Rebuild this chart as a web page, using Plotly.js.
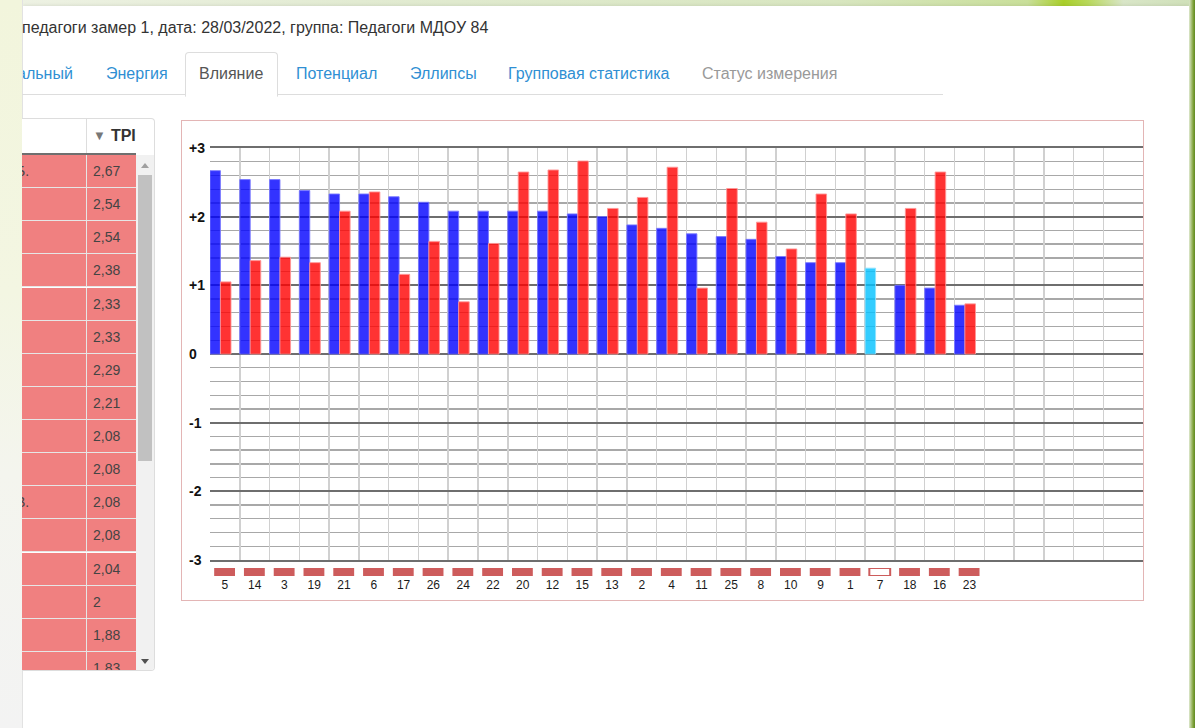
<!DOCTYPE html>
<html><head><meta charset="utf-8">
<script src="https://cdn.plot.ly/plotly-3.0.1.min.js"></script>
<style>
html,body{margin:0;padding:0;width:1195px;height:728px;overflow:hidden;font-family:"Liberation Sans",Arial,sans-serif;}
body{position:relative;background:#dfe8cf;}
#topbar{position:absolute;left:0;top:0;width:1195px;height:6px;background:linear-gradient(90deg,#eef2e4 0%,#e2ebd2 30%,#d8e6c0 70%,#c9df9a 86%,#a9cf2a 89%,#b8d85a 91%,#d9e6c8 94%,#cfe0b8 100%);}
#rightstrip{position:absolute;left:1189px;top:0;width:6px;height:728px;background:linear-gradient(90deg,#dfe9cf,#7fa13a 70%,#5f8a22);}
#leftstrip{position:absolute;left:0;top:0;width:22px;height:728px;background:linear-gradient(180deg,#f2f5dc 0%,#f3f6e2 40%,#f4f5ee 65%,#f3f3f3 100%);border-right:1px solid #e2e2e2;}
#panel{position:absolute;left:23px;top:6px;width:1166px;height:730px;background:#fff;box-shadow:0 -1px 3px rgba(0,0,0,0.08);}
.abs{position:absolute;white-space:nowrap;}
#hdr{left:22px;top:19px;font-size:16px;color:#333;line-height:18px;}
.tab{top:65px;font-size:16px;line-height:18px;color:#2f8fd3;}
#clip1{left:23px;top:60px;width:70px;height:30px;overflow:hidden;}
#clip1 .tab{top:5px;left:-6px;}
#tabline{left:22px;top:94px;width:921px;height:1px;background:#ddd;}
#activetab{left:185px;top:52px;width:91px;height:43px;border:1px solid #ddd;border-bottom:1px solid #fff;border-radius:4px 4px 0 0;background:#fff;}
#tbl{left:22px;top:118px;width:132px;height:551px;overflow:hidden;border:1px solid #ddd;border-left:none;border-radius:0 4px 4px 0;background:#fff;}
#thead{position:absolute;left:0;top:0;width:114px;height:34px;border-bottom:2px solid #6f6f6f;background:#fff;}
#thdiv{position:absolute;left:64px;top:0;width:1px;height:34px;background:#ddd;}
#thtext{position:absolute;left:71px;top:8px;font-size:16px;font-weight:bold;color:#333;}
#thtext span{color:#777;font-size:13px;margin-right:5px;position:relative;top:-1px;}
.row{position:absolute;left:0;width:114px;height:32px;background:#f08080;border-bottom:1px solid #e6e6e6;}
.c1{position:absolute;left:0;top:0;width:64px;height:32px;border-right:1px solid #e6e6e6;overflow:hidden;}
.c1 span{position:absolute;left:-6px;top:8px;font-size:14px;color:#444;}
.c2{position:absolute;left:71px;top:8px;font-size:14px;color:#444;}
#sb{position:absolute;left:114px;top:36px;width:18px;height:515px;background:#f1f1f1;}
#thumb{position:absolute;left:2px;top:20px;width:14px;height:286px;background:#c1c1c1;}
.arr{position:absolute;left:5px;width:0;height:0;border-left:4px solid transparent;border-right:4px solid transparent;}
#frame{left:181px;top:120px;width:961px;height:479px;border:1px solid #e3b5b5;background:#fff;}
#chart{width:961px;height:479px;}
</style>
</head>
<body>
<div id="topbar"></div>
<div id="panel"></div>
<div id="rightstrip"></div>
<div id="leftstrip"></div>

<div class="abs" id="hdr">педагоги замер 1, дата: 28/03/2022, группа: Педагоги МДОУ 84</div>
<div class="abs" id="tabline"></div>
<div class="abs" id="activetab"></div>
<div class="abs" id="clip1"><div class="abs tab">альный</div></div>
<div class="abs tab" style="left:106px">Энергия</div>
<div class="abs tab" style="left:199px;color:#555">Влияние</div>
<div class="abs tab" style="left:296px">Потенциал</div>
<div class="abs tab" style="left:410px">Эллипсы</div>
<div class="abs tab" style="left:508px">Групповая статистика</div>
<div class="abs tab" style="left:702px;color:#999">Статус измерения</div>

<div class="abs" id="tbl">
  <div id="thead"><div id="thdiv"></div><div id="thtext"><span>&#9660;</span>TPI</div></div>
  <div id="rows"></div>
  <div id="sb">
    <div class="arr" style="top:8px;border-bottom:5px solid #a0a0a0"></div>
    <div id="thumb"></div>
    <div class="arr" style="top:504px;border-top:5px solid #505050"></div>
  </div>
</div>

<div class="abs" id="frame"><div id="chart"></div></div>

<script>
// ---- data ----
const categories = ['5','14','3','19','21','6','17','26','24','22','20','12','15','13','2','4','11','25','8','10','9','1','7','18','16','23'];
const tpiValues  = [2.67,2.54,2.54,2.38,2.33,2.33,2.29,2.21,2.08,2.08,2.08,2.08,2.04,2,1.88,1.83,1.75,1.71,1.67,1.42,1.33,1.33,1.25,1,0.96,0.71];
const redValues  = [1.05,1.36,1.41,1.33,2.08,2.36,1.16,1.64,0.76,1.61,2.65,2.68,2.81,2.12,2.28,2.72,0.96,2.41,1.92,1.53,2.33,2.04,null,2.12,2.65,0.73];
const statusFlags = [1,1,1,1,1,1,1,1,1,1,1,1,1,1,1,1,1,1,1,1,1,1,0,1,1,1];
const yTickVals = [-3,-2,-1,0,1,2,3];
const yTickText = ['-3','-2','-1','0','+1','+2','+3'];
const tableNames = ['Б.','','','','','','','','','','В.','','','','',''];
const tableRowCount = 16;
const gridColumns = 31;

// ---- table ----
const rowsEl = document.getElementById('rows');
for (let i = 0; i < tableRowCount; i++) {
  const r = document.createElement('div');
  r.className = 'row';
  r.style.top = (36 + i * 33.13) + 'px';
  r.innerHTML = '<div class="c1"><span>' + (tableNames[i] || '') + '</span></div><div class="c2">' +
    String(tpiValues[i]).replace('.', ',') + '</div>';
  rowsEl.appendChild(r);
}

// ---- chart ----
const idx = categories.map((c, i) => i);
const colW = 29.78;
const plotW = 933;
const xMax = plotW / colW;
const gridVals = Array.from({ length: gridColumns }, (v, i) => i);

const blue = {
  type: 'bar', x: idx, y: tpiValues, width: 0.35, offset: 0,
  marker: {
    color: statusFlags.map(s => s ? 'rgba(0,0,255,0.8)' : 'rgba(0,192,255,0.8)'),
    line: { color: statusFlags.map(s => s ? 'rgba(120,120,255,0.9)' : 'rgba(140,225,255,0.9)'), width: 1 }
  },
  hoverinfo: 'none', xaxis: 'x', yaxis: 'y'
};
const red = {
  type: 'bar', x: idx, y: redValues, width: 0.355, offset: 0.35,
  marker: { color: 'rgba(255,0,0,0.8)', line: { color: 'rgba(255,150,150,0.9)', width: 1 } },
  hoverinfo: 'none', xaxis: 'x', yaxis: 'y'
};
const markers = {
  type: 'bar', x: idx, y: categories.map(() => 1), base: 0, width: 0.7, offset: 0.14,
  marker: {
    color: statusFlags.map(s => s ? '#cd5c5c' : '#ffffff'),
    line: { color: '#cd5c5c', width: statusFlags.map(s => s ? 0 : 2) }
  },
  hoverinfo: 'none', xaxis: 'x2', yaxis: 'y2'
};

const labelX = -23 / plotW;
const annotations = yTickVals.map((v, i) => ({
  xref: 'paper', yref: 'y', x: labelX, y: v, xanchor: 'left', yanchor: 'middle',
  text: yTickText[i], showarrow: false,
  font: { size: 14, color: '#111', weight: 'bold' }
}));

const layout = {
  width: 961, height: 479,
  margin: { l: 28, r: 0, t: 27, b: 24, pad: 0 },
  paper_bgcolor: '#ffffff', plot_bgcolor: '#ffffff',
  showlegend: false, barmode: 'overlay',
  font: { family: '"Liberation Sans", Arial, sans-serif' },
  annotations: annotations,
  xaxis: {
    range: [0, xMax], tickmode: 'array', tickvals: gridVals,
    showgrid: true, gridcolor: '#d0d0d0', gridwidth: 1.5,
    showticklabels: false, zeroline: false, ticks: '',
    showline: true, linecolor: '#6e6e6e', linewidth: 2, mirror: true, fixedrange: true
  },
  yaxis: {
    domain: [16 / 428, 1], range: [-3, 3],
    tickmode: 'array', tickvals: yTickVals, showticklabels: false, ticks: '',
    showgrid: true, gridcolor: '#6e6e6e', gridwidth: 2,
    zeroline: true, zerolinecolor: '#6e6e6e', zerolinewidth: 2,
    minor: { tick0: 0, dtick: 0.2, showgrid: true, gridcolor: '#a8a8a8', gridwidth: 1.3, ticks: '' },
    showline: false, fixedrange: true
  },
  xaxis2: {
    anchor: 'y2', matches: 'x', range: [0, xMax],
    tickmode: 'array', tickvals: idx.map(i => i + 0.5), ticktext: categories,
    tickfont: { size: 12, color: '#1a1a1a' }, ticks: '',
    showgrid: false, zeroline: false, showline: false, fixedrange: true
  },
  yaxis2: { domain: [0, 8 / 428], range: [0, 1], anchor: 'x2', visible: false, fixedrange: true }
};

Plotly.newPlot('chart', [blue, red, markers], layout, { displayModeBar: false, staticPlot: true });
</script>
</body></html>
